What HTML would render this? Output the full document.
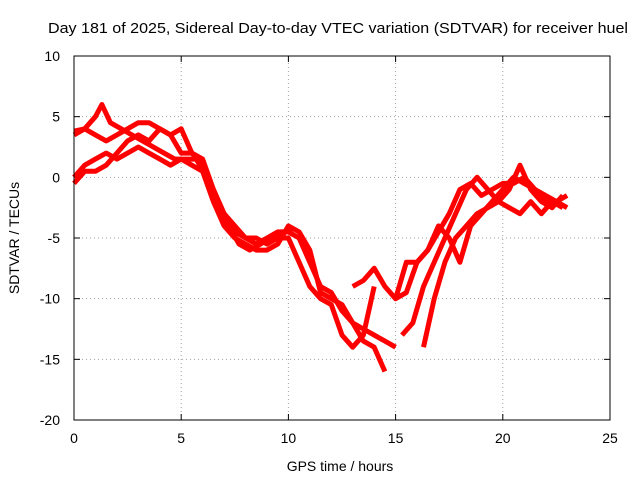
<!DOCTYPE html>
<html><head><meta charset="utf-8"><style>
body{margin:0;background:#fff;}
svg{display:block;font-family:"Liberation Sans",Arial,sans-serif;}
</style></head><body>
<svg id="chart" width="640" height="480" viewBox="0 0 640 480">
<rect width="640" height="480" fill="#fff"/>
<text x="48" y="33" font-size="15" textLength="580" lengthAdjust="spacingAndGlyphs">Day 181 of 2025, Sidereal Day-to-day VTEC variation (SDTVAR) for receiver huel</text>
<g id="grid"></g><g id="axes"></g><g id="series"></g>
<rect x="74" y="56" width="536" height="364" fill="none" stroke="#000" stroke-width="1"/>
<text x="340" y="471" font-size="14" text-anchor="middle">GPS time / hours</text>
<text transform="translate(19,238) rotate(-90)" font-size="14" text-anchor="middle">SDTVAR / TECUs</text>
</svg>
<script>
const xTicks=[0,5,10,15,20,25];
const yTicks=[10,5,0,-5,-10,-15,-20];
const s1t=[0,0.5,1,1.3,1.7,2.2,2.7,3.2,3.7,4.2,4.7,5.2,5.7,6.2,6.7,7.2,7.7,8.2,8.7,9.2,9.7,10.2];
const s1v=[3.5,4,5,6,4.5,4,3.5,3,2.5,2,1.5,1.5,1.5,0,-2,-4,-5.5,-6,-5.5,-5,-4.5,-4.5];
const s2t=[0,0.5,1,1.5,2,2.5,3,3.5,4,4.5,5,5.5,6,6.5,7,7.5,8,8.5,9,9.5,10,10.5,11,11.5,12,12.5,13,13.5,14,14.5];
const s2v=[3.8,4,3.5,3,3.5,4,4.5,4.5,4,3.5,4,2,1,-1,-3,-4,-5,-5.5,-5,-4.5,-4.5,-5,-7,-9,-9.5,-11,-12,-13.5,-14,-16];
const s3t=[0,0.5,1,1.5,2,2.5,3,3.5,4,4.5,5,5.5,6,6.5,7,7.5,8,8.5,9,9.5,10,10.5,11,11.5,12,12.5,13,13.5,14,14.5,15];
const s3v=[0,1,1.5,2,1.5,2,2.5,2,1.5,1,1.5,1,0.5,-2,-4,-5,-5.5,-6,-6,-5.5,-4,-4.5,-6,-9.5,-10,-10.5,-12,-12.5,-13,-13.5,-14];
const s4t=[0,0.5,1,1.5,2,2.5,3,3.5,4,4.5,5,5.5,6,6.5,7,7.5,8,8.5,9,9.5,10,10.5,11,11.5,12,12.5,13,13.5,14];
const s4v=[-0.5,0.5,0.5,1,2,3,3.5,3,4,3.5,2,2,1.5,-1,-3,-4.5,-5,-5,-5.5,-5,-5,-7,-9,-10,-10.5,-13,-14,-13,-9];
const s5t=[13,13.5,14,14.5,15,15.5,16,16.5,17,17.5,18,18.5,19,19.5,20,20.5,21,21.5,22,22.5,23];
const s5v=[-9,-8.5,-7.5,-9,-10,-9.5,-7,-6,-4.5,-3,-1,-0.5,-1.5,-1,-0.5,-0.5,0,-1,-2,-2,-1.5];
const s6t=[15.3,15.8,16.3,16.8,17.3,17.8,18.3,18.8,19.3,19.8,20.3,20.8,21.3,21.8,22.3,22.8];
const s6v=[-13,-12,-9,-7,-5,-3,-1,0,-1,-2,-1,1,-1,-2,-2.5,-1.5];
const s7t=[16.3,16.8,17.3,17.8,18.3,18.8,19.3,19.8,20.3,20.8,21.3,21.8,22.3,22.8];
const s7v=[-14,-10,-7,-5,-4,-3,-2.5,-2,-2.5,-3,-2,-3,-2,-2.5];
const s8t=[15,15.5,16,16.5,17,17.5,18,18.5,19,19.5,20,20.5,21,21.5,22,22.5,23];
const s8v=[-10,-7,-7,-6,-4,-5,-7,-4,-3,-2,-1,0,-0.5,-1,-1.5,-2,-2.5];
const seriesT=[s1t,s2t,s3t,s4t,s5t,s6t,s7t,s8t];
const seriesV=[s1v,s2v,s3v,s4v,s5v,s6v,s7v,s8v];
const X0=74,X1=610,Y0=420,Y1=56;
const xs=v=>X0+(v-0)/(25-0)*(X1-X0);
const ys=v=>Y0-(v+20)/(30)*(Y0-Y1);
const NS='http://www.w3.org/2000/svg';
const grid=document.getElementById('grid'),axes=document.getElementById('axes'),ser=document.getElementById('series');
function mk(tag,attrs,parent){const e=document.createElementNS(NS,tag);for(const k in attrs)e.setAttribute(k,attrs[k]);parent.appendChild(e);return e;}
xTicks.forEach(t=>{const x=xs(t);
 if(t>0&&t<25){const g=mk('line',{x1:x,x2:x,y1:Y0,y2:Y1,stroke:'#a0a0a0','stroke-dasharray':'1,3'},grid);
 
 }
 mk('line',{x1:x,x2:x,y1:Y0,y2:Y0-6,stroke:'#000'},axes);mk('line',{x1:x,x2:x,y1:Y1,y2:Y1+6,stroke:'#000'},axes);
 const l=mk('text',{x:x,y:443,'font-size':14,'text-anchor':'middle'},axes);l.textContent=t;
 
 });
yTicks.forEach(t=>{const y=ys(t);
 if(t>-20&&t<10){const g=mk('line',{x1:X0,x2:X1,y1:y,y2:y,stroke:'#a0a0a0','stroke-dasharray':'1,3'},grid);
 
 }
 mk('line',{x1:X0,x2:X0+6,y1:y,y2:y,stroke:'#000'},axes);mk('line',{x1:X1,x2:X1-6,y1:y,y2:y,stroke:'#000'},axes);
 const l=mk('text',{x:60,y:y+5,'font-size':14,'text-anchor':'end'},axes);l.textContent=t;
 
 });
seriesT.forEach((ts,i)=>{const vs=seriesV[i];
 const pts=ts.map((t,j)=>xs(t).toFixed(1)+','+ys(vs[j]).toFixed(1)).join(' ');
 const p=mk('polyline',{points:pts,fill:'none',stroke:'#ff0000','stroke-width':5,'stroke-linejoin':'round'},ser);
 
 });
</script>
</body></html>
